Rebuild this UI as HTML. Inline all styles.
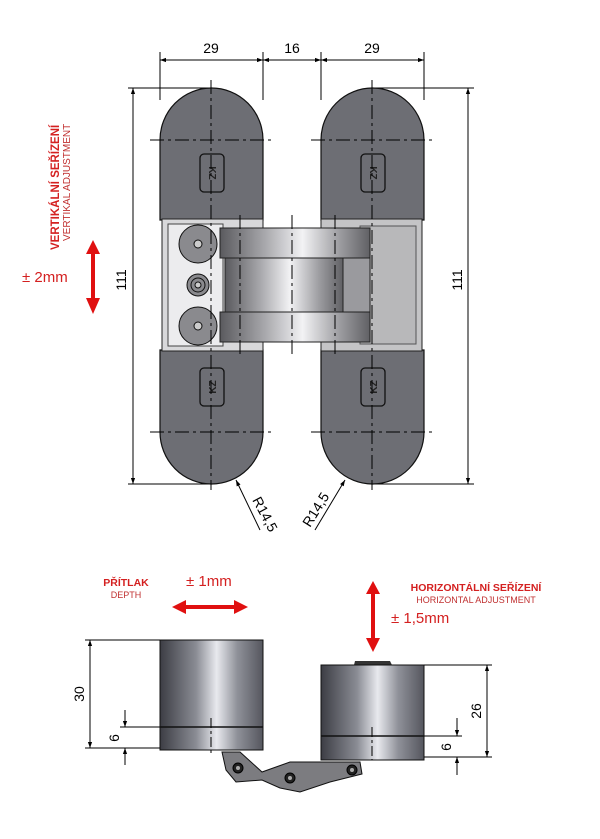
<!DOCTYPE html>
<html><head><meta charset="utf-8"><style>
html,body{margin:0;padding:0;background:#fff;width:600px;height:839px;overflow:hidden}
svg{display:block}
text{font-family:"Liberation Sans",sans-serif}
</style></head><body>
<svg width="600" height="839" viewBox="0 0 600 839" xmlns="http://www.w3.org/2000/svg">
<defs>
<marker id="a" viewBox="0 0 10 10" refX="10" refY="5" markerWidth="8" markerHeight="6" orient="auto-start-reverse"><path d="M0,1.5 L10,5 L0,8.5 z" fill="#000"/></marker>
<linearGradient id="cyl" x1="0" x2="1" y1="0" y2="0">
<stop offset="0" stop-color="#3c3d44"/><stop offset="0.35" stop-color="#8a8c94"/><stop offset="0.55" stop-color="#e8e9ee"/><stop offset="0.75" stop-color="#8f9199"/><stop offset="1" stop-color="#55565e"/></linearGradient>
<linearGradient id="mid" x1="0" x2="1" y1="0" y2="0">
<stop offset="0" stop-color="#5a5a5e"/><stop offset="0.3" stop-color="#a8a8ac"/><stop offset="0.55" stop-color="#f2f2f4"/><stop offset="0.8" stop-color="#9c9ca0"/><stop offset="1" stop-color="#606064"/></linearGradient>
</defs>
<g stroke="#000" stroke-width="1" fill="none">
<line x1="160" y1="52" x2="160" y2="100"/><line x1="263" y1="52" x2="263" y2="100"/>
<line x1="321" y1="52" x2="321" y2="100"/><line x1="424" y1="52" x2="424" y2="100"/>
<line x1="160" y1="60" x2="263" y2="60" marker-start="url(#a)" marker-end="url(#a)"/>
<line x1="263" y1="60" x2="321" y2="60" marker-start="url(#a)" marker-end="url(#a)"/>
<line x1="321" y1="60" x2="424" y2="60" marker-start="url(#a)" marker-end="url(#a)"/>
<line x1="128" y1="88" x2="212" y2="88"/><line x1="128" y1="484" x2="212" y2="484"/>
<line x1="133" y1="88" x2="133" y2="484" marker-start="url(#a)" marker-end="url(#a)"/>
<line x1="372" y1="88" x2="474" y2="88"/><line x1="372" y1="484" x2="474" y2="484"/>
<line x1="468" y1="88" x2="468" y2="484" marker-start="url(#a)" marker-end="url(#a)"/>
</g>
<text x="211" y="53" font-size="14" text-anchor="middle">29</text>
<text x="292" y="53" font-size="14" text-anchor="middle">16</text>
<text x="372" y="53" font-size="14" text-anchor="middle">29</text>
<text transform="translate(126,280) rotate(-90)" font-size="14" text-anchor="middle">111</text>
<text transform="translate(462,280) rotate(-90)" font-size="14" text-anchor="middle">111</text>
<g fill="#6d6e74" stroke="#111" stroke-width="1.2">
<path d="M160,140 A51.5,52 0 0 1 263,140 L263,220 L160,220 Z"/>
<path d="M321,140 A51.5,52 0 0 1 424,140 L424,220 L321,220 Z"/>
<path d="M160,350 L263,350 L263,432 A51.5,52 0 0 1 160,432 Z"/>
<path d="M321,350 L424,350 L424,432 A51.5,52 0 0 1 321,432 Z"/>
</g>
<rect x="162" y="219" width="101" height="132" fill="#d8d8da" stroke="#222"/>
<rect x="168" y="224" width="55" height="122" fill="#ececee" stroke="#444"/>
<rect x="321" y="219" width="101" height="132" fill="#c4c4c6" stroke="#222"/>
<rect x="360" y="226" width="56" height="118" fill="#b8b8ba" stroke="#555"/>
<rect x="220" y="228" width="150" height="30" fill="url(#mid)" stroke="#222"/>
<rect x="220" y="312" width="150" height="30" fill="url(#mid)" stroke="#222"/>
<rect x="225" y="258" width="118" height="54" fill="url(#mid)" stroke="#222"/>
<rect x="343" y="258" width="27" height="54" fill="#9a9a9e" stroke="#222"/>
<g stroke="#111" fill="#8a8a8e">
<circle cx="198" cy="244" r="19"/><circle cx="198" cy="244" r="4" fill="#ccc"/>
<circle cx="198" cy="326" r="19"/><circle cx="198" cy="326" r="4" fill="#ccc"/>
<circle cx="198" cy="285" r="11"/><circle cx="198" cy="285" r="7"/><circle cx="198" cy="285" r="3" fill="#ccc"/>
</g>
<g fill="#6d6e74" stroke="#111" stroke-width="1.3">
<rect x="200" y="154" width="24" height="38" rx="4"/><rect x="361" y="154" width="24" height="38" rx="4"/>
<rect x="200" y="368" width="24" height="38" rx="4"/><rect x="361" y="368" width="24" height="38" rx="4"/>
</g>
<g font-size="10" font-weight="bold">
<text transform="translate(209,173) rotate(90)" text-anchor="middle" fill="#222">KZ</text>
<text transform="translate(370,173) rotate(90)" text-anchor="middle" fill="#222">KZ</text>
<text transform="translate(216,387) rotate(-90)" text-anchor="middle" fill="#222">KZ</text>
<text transform="translate(377,387) rotate(-90)" text-anchor="middle" fill="#222">KZ</text>
</g>
<g stroke="#000" stroke-width="1" stroke-dasharray="14,4,3,4">
<line x1="211" y1="80" x2="211" y2="490"/><line x1="372" y1="80" x2="372" y2="490"/>
<line x1="150" y1="140" x2="273" y2="140"/><line x1="311" y1="140" x2="434" y2="140"/>
<line x1="150" y1="432" x2="273" y2="432"/><line x1="311" y1="432" x2="434" y2="432"/>
<line x1="292" y1="215" x2="292" y2="355"/>
<line x1="240" y1="215" x2="240" y2="355"/><line x1="335" y1="215" x2="335" y2="355"/>
</g>
<g stroke="#000"><line x1="236" y1="480" x2="260" y2="530" marker-start="url(#a)"/><line x1="345" y1="480" x2="315" y2="530" marker-start="url(#a)"/></g>
<text transform="translate(252,500) rotate(62)" font-size="14">R14,5</text>
<text transform="translate(310,528) rotate(-58)" font-size="14">R14,5</text>
<text transform="translate(59,250) rotate(-90)" font-size="11.5" font-weight="bold" fill="#d42020">VERTIKÁLNÍ SEŘÍZENÍ</text>
<text transform="translate(70,241) rotate(-90)" font-size="10" fill="#c03030">VERTIKAL ADJUSTMENT</text>
<text x="22" y="282" font-size="15" fill="#d42020">± 2mm</text>
<g fill="#e01010"><rect x="91" y="252" width="4" height="48"/><path d="M86,254 L93,240 L100,254Z M86,298 L93,314 L100,298Z"/></g>
<text x="126" y="586" font-size="10.5" font-weight="bold" fill="#d42020" text-anchor="middle">PŘÍTLAK</text>
<text x="126" y="598" font-size="9" fill="#c03030" text-anchor="middle">DEPTH</text>
<text x="186" y="586" font-size="15" fill="#d42020">± 1mm</text>
<g fill="#e01010"><rect x="184" y="605" width="52" height="4"/><path d="M186,600 L172,607 L186,614Z M234,600 L248,607 L234,614Z"/></g>
<text x="476" y="591" font-size="10.5" font-weight="bold" fill="#d42020" text-anchor="middle">HORIZONTÁLNÍ SEŘÍZENÍ</text>
<text x="476" y="603" font-size="9" fill="#c03030" text-anchor="middle">HORIZONTAL ADJUSTMENT</text>
<text x="391" y="623" font-size="15" fill="#d42020">± 1,5mm</text>
<g fill="#e01010"><rect x="371" y="592" width="4" height="48"/><path d="M366,594 L373,581 L380,594Z M366,638 L373,652 L380,638Z"/></g>
<rect x="160" y="640" width="103" height="110" fill="url(#cyl)" stroke="#111"/>
<line x1="160" y1="727" x2="263" y2="727" stroke="#111" stroke-width="1.5"/>
<path d="M354,665 L355,661 L390,661 L392,665Z" fill="#333"/>
<rect x="321" y="665" width="103" height="95" fill="url(#cyl)" stroke="#111"/>
<line x1="321" y1="736" x2="424" y2="736" stroke="#111" stroke-width="1.5"/>
<path d="M222,752 L240,752 L262,772 L290,762 L330,762 L360,762 L362,774 L330,782 L300,792 L280,788 L262,780 L236,782 L226,770 Z" fill="#7c7c80" stroke="#111"/>
<g fill="#222" stroke="#000"><circle cx="238" cy="768" r="5"/><circle cx="290" cy="778" r="5"/><circle cx="352" cy="770" r="5"/></g>
<g fill="#aaa"><circle cx="238" cy="768" r="2"/><circle cx="290" cy="778" r="2"/><circle cx="352" cy="770" r="2"/></g>
<g stroke="#000" stroke-dasharray="10,3,3,3"><line x1="211" y1="718" x2="211" y2="755"/><line x1="372" y1="727" x2="372" y2="760"/></g>
<g stroke="#000" fill="none">
<line x1="85" y1="640" x2="160" y2="640"/><line x1="85" y1="748" x2="160" y2="748"/>
<line x1="90" y1="640" x2="90" y2="748" marker-start="url(#a)" marker-end="url(#a)"/>
<line x1="120" y1="727" x2="160" y2="727"/>
<line x1="125" y1="710" x2="125" y2="727" marker-end="url(#a)"/>
<line x1="125" y1="765" x2="125" y2="748" marker-end="url(#a)"/>
<line x1="424" y1="665" x2="492" y2="665"/><line x1="424" y1="757" x2="492" y2="757"/>
<line x1="487" y1="665" x2="487" y2="757" marker-start="url(#a)" marker-end="url(#a)"/>
<line x1="424" y1="736" x2="462" y2="736"/>
<line x1="457" y1="718" x2="457" y2="736" marker-end="url(#a)"/>
<line x1="457" y1="775" x2="457" y2="757" marker-end="url(#a)"/>
</g>
<text transform="translate(84,694) rotate(-90)" font-size="14" text-anchor="middle">30</text>
<text transform="translate(119,738) rotate(-90)" font-size="14" text-anchor="middle">6</text>
<text transform="translate(481,711) rotate(-90)" font-size="14" text-anchor="middle">26</text>
<text transform="translate(451,747) rotate(-90)" font-size="14" text-anchor="middle">6</text>
</svg>
</body></html>
